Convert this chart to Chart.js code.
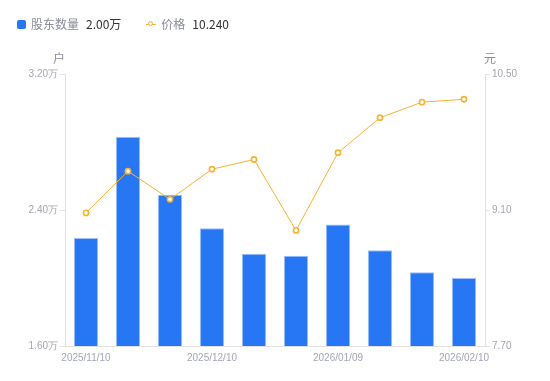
<!DOCTYPE html>
<html lang="zh">
<head>
    <meta charset="UTF-8">
    <title>股东数量与价格</title>
    <script src="https://cdn.jsdelivr.net/npm/chart.js"></script>
    <style>
        body {
            margin: 0;
            padding: 0;
            background: #fff;
            font-family: "Noto Sans CJK SC", "Noto Sans", sans-serif;
        }
        .wrap {
            position: relative;
            width: 550px;
            height: 381px;
        }
        .legend {
            position: absolute;
            top: 15px;
            left: 17px;
            display: flex;
            align-items: center;
            font-size: 12px;
            line-height: 18px;
        }
        .legend .item {
            display: flex;
            align-items: center;
            margin-right: 25px;
        }
        .legend .box {
            width: 9px;
            height: 9px;
            border-radius: 2px;
            background: #2777f5;
            margin-right: 5px;
        }
        .legend .lineIcon {
            position: relative;
            width: 10px;
            height: 9px;
            margin-right: 5px;
        }
        .legend .lineIcon:before {
            content: "";
            position: absolute;
            left: 0; right: 0; top: 4px;
            border-top: 1px solid #f8b133;
        }
        .legend .lineIcon:after {
            content: "";
            position: absolute;
            left: 2px; top: 1px;
            width: 3px; height: 3px;
            border: 1.5px solid #f8b133;
            border-radius: 50%;
            background: #fff;
        }
        .legend .name { color: #8a8d99; margin-right: 7px; }
        .legend .val { color: #333; }
        canvas { position: absolute; left: 0; top: 0; }
    </style>
</head>
<body>
<div class="wrap">
    <canvas id="chart" width="550" height="381"></canvas>
    <div class="legend">
        <div class="item"><span class="box"></span><span class="name">股东数量</span><span class="val" id="lv1"></span></div>
        <div class="item"><span class="lineIcon"></span><span class="name">价格</span><span class="val" id="lv2"></span></div>
    </div>
</div>

<script>
    // data (股东数量 in 万户, 价格 in 元)
    const dates = ['2025/11/10', '2025/11/20', '2025/11/28', '2025/12/10', '2025/12/19',
                   '2025/12/31', '2026/01/09', '2026/01/20', '2026/01/30', '2026/02/10'];
    const holders = [2.235, 2.831, 2.490, 2.292, 2.143, 2.131, 2.314, 2.163, 2.034, 2.000];
    const prices = [9.07, 9.50, 9.21, 9.52, 9.62, 8.89, 9.69, 10.05, 10.21, 10.24];
    const leftTicks = [1.60, 2.40, 3.20];
    const rightTicks = [7.70, 9.10, 10.50];

    document.getElementById('lv1').textContent = holders[holders.length - 1].toFixed(2) + '万';
    document.getElementById('lv2').textContent = prices[prices.length - 1].toFixed(3);

    const tickColor = '#a3a6b4';
    const lineGray = '#e3e3e6';

    // axis unit titles above each y axis
    const unitTitles = {
        id: 'unitTitles',
        afterDraw(chart) {
            const c = chart.ctx;
            const area = chart.chartArea;
            c.save();
            c.font = '12px "Noto Sans CJK SC", sans-serif';
            c.fillStyle = '#8a8d99';
            c.textBaseline = 'middle';
            c.textAlign = 'center';
            c.fillText('户', area.left - 6, area.top - 16);
            c.fillText('元', area.right + 5, area.top - 16);
            c.restore();
        }
    };

    new Chart(document.getElementById('chart'), {
        data: {
            labels: dates,
            datasets: [{
                type: 'line',
                label: '价格',
                data: prices,
                yAxisID: 'y1',
                borderColor: '#f8b133',
                borderWidth: 1,
                pointRadius: 2.6,
                pointBorderWidth: 1.6,
                pointBackgroundColor: '#fff',
                pointBorderColor: '#f8b133',
                tension: 0
            }, {
                type: 'bar',
                label: '股东数量',
                data: holders,
                yAxisID: 'y',
                backgroundColor: '#2777f5',
                borderColor: '#9cc0fb',
                borderWidth: 1,
                borderSkipped: 'bottom',
                categoryPercentage: 1,
                barPercentage: 0.58
            }]
        },
        options: {
            responsive: false,
            animation: false,
            layout: { padding: { top: 74, left: 0, right: 0, bottom: 0 } },
            plugins: {
                legend: { display: false },
                tooltip: { enabled: false }
            },
            scales: {
                x: {
                    grid: { display: false, drawTicks: false },
                    border: { color: lineGray },
                    ticks: {
                        autoSkip: false,
                        maxRotation: 0,
                        padding: 6,
                        color: tickColor,
                        font: { size: 10 },
                        callback: function (v, i) { return i % 3 === 0 ? dates[i] : ''; }
                    },
                    afterFit(s) { s.height = 35; }
                },
                y: {
                    position: 'left',
                    min: leftTicks[0],
                    max: leftTicks[leftTicks.length - 1],
                    afterBuildTicks(s) { s.ticks = leftTicks.map(v => ({ value: v })); },
                    grid: { drawOnChartArea: false, tickLength: 5, color: lineGray },
                    border: { color: lineGray },
                    ticks: {
                        padding: 2,
                        color: tickColor,
                        font: { size: 10 },
                        callback: v => v.toFixed(2) + '万'
                    },
                    afterFit(s) { s.width = 65; }
                },
                y1: {
                    position: 'right',
                    min: rightTicks[0],
                    max: rightTicks[rightTicks.length - 1],
                    afterBuildTicks(s) { s.ticks = rightTicks.map(v => ({ value: v })); },
                    grid: { drawOnChartArea: false, tickLength: 5, color: lineGray },
                    border: { color: lineGray },
                    ticks: {
                        padding: 2,
                        color: tickColor,
                        font: { size: 10 },
                        callback: v => v.toFixed(2)
                    },
                    afterFit(s) { s.width = 65; }
                }
            }
        },
        plugins: [unitTitles]
    });
</script>
</body>
</html>
